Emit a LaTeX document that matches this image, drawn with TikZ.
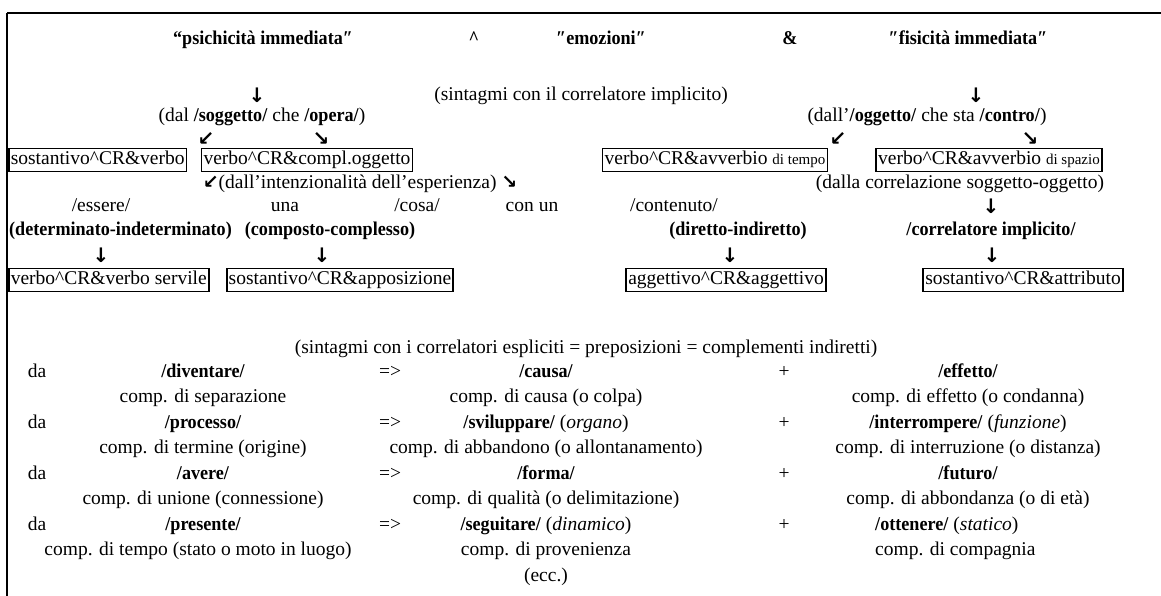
\documentclass[tikz,border=0pt]{standalone}
\usepackage{fontspec}
\setmainfont{Liberation Serif}[BoldFeatures={FakeStretch=0.93}]
\newfontfamily\arrowfont{DejaVu Sans}
\usetikzlibrary{positioning}

\newcommand{\smalltxt}[1]{{\fontsize{15}{17}\selectfont #1}}
\newcommand{\arr}[1]{{\arrowfont\bfseries\fontsize{19}{20}\selectfont #1}}

\begin{document}
\begin{tikzpicture}[x=1pt,y=-1pt]

	% ============================================================
	% STYLES
	% ============================================================
	\tikzset{
		txt/.style={inner sep=0pt, text height=13pt, text depth=4pt,
			font=\fontsize{19.5}{23}\selectfont, text=black},
		bld/.style={txt, font=\fontsize{19.5}{23}\selectfont\bfseries},
		arw/.style={inner sep=0pt, font=\arrowfont\bfseries\fontsize{20}{22}\selectfont},
		cbox/.style={txt, draw, line width=1.6pt, inner xsep=2pt, inner ysep=3pt},
		frame/.style={line width=2pt}
	}

	\useasboundingbox (0,0) rectangle (1161,596);

	% ============================================================
	% FRAME
	% ============================================================
	\draw[frame] (7,13) -- (1161,13);
	\draw[frame] (7,13) -- (7,596);

	% ============================================================
	% ROW 1 - TITLE
	% ============================================================
	\node[bld] (psi)   at (263,40) {“psichicità immediata″};
	\node[bld] (wedge) at (474,40) {\textasciicircum};
	\node[bld] (emo)   at (601,40) {″emozioni″};
	\node[bld] (amp)   at (790,40) {\&};
	\node[bld] (fis)   at (968,40) {″fisicità immediata″};

	% ============================================================
	% IMPLICIT CORRELATOR
	% ============================================================
	\node[arw] (dnL)  at (257,95) {↓};
	\node[txt] (impl) at (581,96) {(sintagmi con il correlatore implicito)};
	\node[arw] (dnR)  at (976,95) {↓};

	\node[txt] (sogg) at (262,117) {(dal \textbf{/soggetto/} che \textbf{/opera/})};
	\node[txt] (ogg)  at (927,117) {(dall’\textbf{/oggetto/} che sta \textbf{/contro/})};

	\node[arw] (swA) at (206,139) {↙};
	\node[arw] (seA) at (321,139) {↘};
	\node[arw] (swB) at (838,139) {↙};
	\node[arw] (seB) at (1030,139) {↘};

	% BOXES - ROW 1
	\node[cbox, anchor=west] (sv) at (8,160) {sostantivo\textasciicircum CR\&verbo};
	\node[cbox] (vc) at (307,160) {verbo\textasciicircum CR\&compl.oggetto};
	\node[cbox] (vt) at (715,160) {verbo\textasciicircum CR\&avverbio \smalltxt{di tempo}};
	\node[cbox] (vs) at (989,160) {verbo\textasciicircum CR\&avverbio \smalltxt{di spazio}};

	\node[txt] (intz) at (360,184) {\arr{↙}(dall’intenzionalità dell’esperienza) \arr{↘}};
	\node[txt] (corr) at (960,184) {(dalla correlazione soggetto-oggetto)};

	\node[txt] (ess) at (101,207) {/essere/};
	\node[txt] (una) at (285,207) {una};
	\node[txt] (cos) at (417,207) {/cosa/};
	\node[txt] (con) at (532,207) {con un};
	\node[txt] (cnt) at (674,207) {/contenuto/};
	\node[arw] (dnC) at (991,206) {↓};

	\node[bld, anchor=west] (det) at (9,231) {(determinato-indeterminato)};
	\node[bld] (cmp) at (330,231) {(composto-complesso)};
	\node[bld] (dir) at (738,231) {(diretto-indiretto)};
	\node[bld] (cim) at (991,231) {/correlatore implicito/};

	\node[arw] (dn1) at (101,255) {↓};
	\node[arw] (dn2) at (322,255) {↓};
	\node[arw] (dn3) at (730,255) {↓};
	\node[arw] (dn4) at (992,255) {↓};

	% BOXES - ROW 2
	\node[cbox, anchor=west] (vv) at (8,280) {verbo\textasciicircum CR\&verbo servile};
	\node[cbox] (sa)  at (340,280) {sostantivo\textasciicircum CR\&apposizione};
	\node[cbox] (aa)  at (726,280) {aggettivo\textasciicircum CR\&aggettivo};
	\node[cbox] (sat) at (1023,280) {sostantivo\textasciicircum CR\&attributo};

	% ============================================================
	% EXPLICIT CORRELATORS
	% ============================================================
	\node[txt] (espl) at (586,349) {(sintagmi con i correlatori espliciti = preposizioni = complementi indiretti)};

	% row: diventare
	\node[txt] (da1)  at (37,373)  {da};
	\node[bld] (div)  at (203,373) {/diventare/};
	\node[txt] (im1)  at (390,373) {=>};
	\node[bld] (cau)  at (546,373) {/causa/};
	\node[txt] (pl1)  at (784,373) {+};
	\node[bld] (eff)  at (968,373) {/effetto/};
	\node[txt] (sep)  at (203,398) {comp. di separazione};
	\node[txt] (ccau) at (546,398) {comp. di causa (o colpa)};
	\node[txt] (ceff) at (968,398) {comp. di effetto (o condanna)};

	% row: processo
	\node[txt] (da2)  at (37,424)  {da};
	\node[bld] (pro)  at (203,424) {/processo/};
	\node[txt] (im2)  at (390,424) {=>};
	\node[txt] (svi)  at (546,424) {\textbf{/sviluppare/} (\textit{organo})};
	\node[txt] (pl2)  at (784,424) {+};
	\node[txt] (int)  at (968,424) {\textbf{/interrompere/} (\textit{funzione})};
	\node[txt] (ter)  at (203,449) {comp. di termine (origine)};
	\node[txt] (abb)  at (546,449) {comp. di abbandono (o allontanamento)};
	\node[txt] (cint) at (968,449) {comp. di interruzione (o distanza)};

	% row: avere
	\node[txt] (da3)  at (37,475)  {da};
	\node[bld] (ave)  at (203,475) {/avere/};
	\node[txt] (im3)  at (390,475) {=>};
	\node[bld] (for)  at (546,475) {/forma/};
	\node[txt] (pl3)  at (784,475) {+};
	\node[bld] (fut)  at (968,475) {/futuro/};
	\node[txt] (uni)  at (203,500) {comp. di unione (connessione)};
	\node[txt] (qua)  at (546,500) {comp. di qualità (o delimitazione)};
	\node[txt] (abd)  at (968,500) {comp. di abbondanza (o di età)};

	% row: presente
	\node[txt] (da4)  at (37,526)  {da};
	\node[bld] (pre)  at (203,526) {/presente/};
	\node[txt] (im4)  at (390,526) {=>};
	\node[txt] (seg)  at (546,526) {\textbf{/seguitare/} (\textit{dinamico})};
	\node[txt] (pl4)  at (784,526) {+};
	\node[txt, anchor=west] (ott) at (875,526) {\textbf{/ottenere/} (\textit{statico})};
	\node[txt] (tem)  at (198,551) {comp. di tempo (stato o moto in luogo)};
	\node[txt] (prv)  at (546,551) {comp. di provenienza};
	\node[txt, anchor=west] (cmg) at (875,551) {comp. di compagnia};
	\node[txt] (ecc)  at (546,577) {(ecc.)};

\end{tikzpicture}
\end{document}
